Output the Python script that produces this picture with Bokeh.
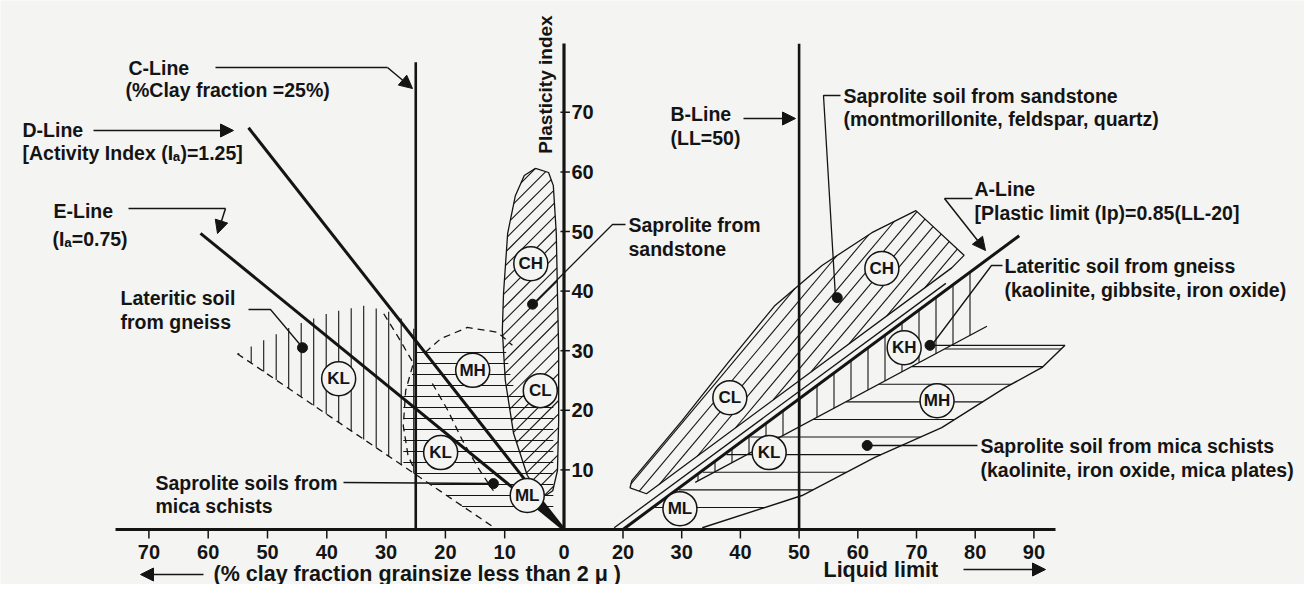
import math
from bokeh.plotting import figure
from bokeh.models import Range1d, Arrow, NormalHead
from bokeh.core.properties import value
from bokeh.embed import file_html
from bokeh.resources import INLINE

# ---------------- values ----------------
clay_tick_values = [70, 60, 50, 40, 30, 20, 10, 0]
ll_tick_values = [20, 30, 40, 50, 60, 70, 80, 90]
pi_tick_values = [10, 20, 30, 40, 50, 60, 70]

c_line_clay = 25.0          # C-Line: % clay fraction = 25
c_line_top_pi = 78.4
b_line_ll = 50.0            # B-Line: LL = 50
b_line_top_pi = 81.5
d_line_clay = [0.0, 53.2]   # D-Line (activity 1.25)
d_line_pi = [0.0, 67.4]
e_line_clay = [0.0, 61.3]   # E-Line (activity 0.75)
e_line_pi = [0.0, 49.7]
a_line_ll = [20.0, 87.5]    # A-Line
a_line_pi = [0.0, 49.3]

left_class_names = ["KL", "MH", "KL", "ML", "CH", "CL"]
left_class_clay = [38.0, 15.4, 20.8, 6.2, 5.6, 4.0]
left_class_pi = [25.3, 26.7, 12.9, 5.7, 44.6, 23.3]
right_class_names = ["CH", "CL", "KL", "ML", "KH", "MH"]
right_class_ll = [64.1, 38.2, 44.9, 29.7, 67.9, 73.5]
right_class_pi = [43.8, 22.1, 12.9, 3.5, 30.5, 21.6]

left_dot_clay = [44.1, 5.3, 11.9]
left_dot_pi = [30.5, 37.8, 7.7]
right_dot_ll = [56.5, 72.3, 61.6]
right_dot_pi = [38.9, 30.9, 14.1]

# zones, left part in (clay %, PI), right part in (LL, PI)
gneiss_left_clay = [55.1, 52.4, 45.8, 39.4, 33.5, 28.4, 25.0, 25.0]
gneiss_left_pi = [29.5, 30.9, 34.1, 36.4, 37.6, 36.2, 33.4, 9.2]
mica_left_clay = [25.0, 9.9, 8.7, 1.8, 1.8, 14.9, 27.1, 27.1, 25.0]
mica_left_pi = [30.5, 30.5, 24.2, 22.5, 2.3, 2.3, 10.6, 22.5, 27.5]
sand_left_clay = [4.8, 2.6, 1.8, 1.3, 1.1, 0.9, 0.9, 1.1, 1.9, 3.1, 4.5, 6.2,
                  8.5, 9.9, 10.4, 10.2, 9.5, 8.2, 6.7]
sand_left_pi = [60.6, 59.9, 57.7, 49.7, 39.6, 30.0, 18.3, 9.9, 6.5, 5.7, 6.5, 9.1,
                16.1, 25.0, 33.4, 39.6, 49.7, 56.0, 59.4]
dash_diag_clay = [55.1, 11.9]
dash_diag_pi = [29.5, 0.4]
dash_cap_clay = [23.4, 20.8, 16.3, 11.2, 8.7]
dash_cap_pi = [29.7, 32.0, 33.9, 33.1, 30.9]
dash_side_clay = [30.4, 27.9, 25.4, 26.7, 27.1, 26.3, 25.0]
dash_side_pi = [36.2, 32.2, 27.9, 23.3, 17.4, 12.4, 9.6]
dash_inner_clay = [22.2, 19.6, 17.1, 14.4, 11.9]
dash_inner_pi = [24.5, 20.0, 14.9, 10.2, 6.5]
wedge_clay = [0.0, 3.6, 4.8]
wedge_pi = [0.0, 4.5, 3.9]

sand_right_ll = [21.5, 30.1, 37.9, 45.9, 53.9, 62.4, 69.9, 78.1, 76.0, 24.0, 21.2]
sand_right_pi = [8.2, 18.3, 28.0, 37.6, 44.3, 49.8, 53.5, 46.0, 43.9, 6.0, 7.0]
gneiss_right_ll = [31.5, 80.0, 80.0, 32.3]
gneiss_right_pi = [8.3, 43.8, 33.0, 7.9]
gneiss_right_base_ll = [32.3, 82.0]
gneiss_right_base_pi = [7.9, 34.1]
mica_right_ll = [24.5, 44.0, 50.0, 76.0, 95.3, 91.4, 85.1, 74.3, 62.9, 50.5, 42.0]
mica_right_pi = [3.0, 17.2, 17.2, 30.9, 30.9, 27.2, 23.8, 17.1, 12.1, 5.7, 3.0]
mica_right_curve_ll = [33.5, 50.5, 62.9, 74.3, 85.1, 91.4, 95.3]
mica_right_curve_pi = [0.3, 5.7, 12.1, 17.1, 23.8, 27.2, 30.9]
mica_right_top_ll = [72.3, 95.3]
mica_right_top_pi = [30.9, 30.9]
ml_band_ll = [18.5, 75.0]
ml_band_pi = [0.3, 41.3]

# ---------------- geometry of the drawing ----------------
SX, SY = 5.9, 5.96          # pixels per unit
X0, Y0 = 563.5, 529.0       # origin (0,0) in picture pixels
W, H = 1304, 584
XMIN, XMAX = (0 - X0) / SX, (W - X0) / SX
YMAX, YMIN = Y0 / SY, (Y0 - H) / SY


def P(x, y):
    return ((x - X0) / SX, (Y0 - y) / SY)


def Lx(clay):
    return [-c * 5.93 / SX for c in clay]


def Rx(ll):
    return [10 + (v - 20) * 5.87 / SX for v in ll]


def hatch(xs, ys, angle_deg, spacing, offset=0.0):
    pts = [(x * SX, y * SY) for x, y in zip(xs, ys)]
    a = math.radians(angle_deg)
    ca, sa = math.cos(a), math.sin(a)
    rp = [(x * ca + y * sa, -x * sa + y * ca) for x, y in pts]
    ty = [q[1] for q in rp]
    t = math.ceil((min(ty) - offset) / spacing) * spacing + offset
    x0s, y0s, x1s, y1s = [], [], [], []
    n = len(rp)
    while t < max(ty):
        cuts = []
        for i in range(n):
            (xa, ya), (xb, yb) = rp[i], rp[(i + 1) % n]
            if (ya <= t < yb) or (yb <= t < ya):
                cuts.append(xa + (t - ya) * (xb - xa) / (yb - ya))
        cuts.sort()
        for j in range(0, len(cuts) - 1, 2):
            u0, u1 = cuts[j], cuts[j + 1]
            x0s.append((u0 * ca - t * sa) / SX)
            y0s.append((u0 * sa + t * ca) / SY)
            x1s.append((u1 * ca - t * sa) / SX)
            y1s.append((u1 * sa + t * ca) / SY)
        t += spacing
    return x0s, y0s, x1s, y1s


BG = "#f4f4f2"
INK = "#141414"
FONT = value("Liberation Sans")

p = figure(width=W, height=H, x_range=Range1d(XMIN, XMAX), y_range=Range1d(YMIN, YMAX),
           output_backend="svg", toolbar_location=None, x_axis_type=None, y_axis_type=None,
           min_border=0, background_fill_color=BG, border_fill_color=BG)
p.grid.visible = False
p.outline_line_color = None


def poly(xs, ys, w=1.2, dash="solid", color=INK):
    p.line(xs, ys, line_color=color, line_width=w, line_dash=dash)


def seg(h, w=1.1):
    p.segment(h[0], h[1], h[2], h[3], line_color=INK, line_width=w)


# ---- hatched zones ----
lg_x = Lx(gneiss_left_clay)
seg(hatch(lg_x, gneiss_left_pi, 90, 12.5, 0.3))
lm_x = Lx(mica_left_clay)
seg(hatch(lm_x, mica_left_pi, 0, 11.0, 1.0))
ls_x = Lx(sand_left_clay)
seg(hatch(ls_x, sand_left_pi, 45, 9.5))
poly(ls_x + ls_x[:1], sand_left_pi + sand_left_pi[:1], 1.3)

rs_x = Rx(sand_right_ll)
seg(hatch(rs_x, sand_right_pi, 50, 11.0))
poly(rs_x + rs_x[:1], sand_right_pi + sand_right_pi[:1], 1.3)
rg_x = Rx(gneiss_right_ll)
seg(hatch(rg_x, gneiss_right_pi, 90, 17.0, 2.0))
poly(Rx(gneiss_right_base_ll), gneiss_right_base_pi, 1.3)
rm_x = Rx(mica_right_ll)
seg(hatch(rm_x, mica_right_pi, 0, 17.6, 3.7 * SY))
poly(Rx(mica_right_curve_ll), mica_right_curve_pi, 1.4)
poly(Rx(mica_right_top_ll), mica_right_top_pi, 1.3)
poly(Rx(ml_band_ll), ml_band_pi, 1.3)

# ---- dashed outlines (left) ----
for cx, cy in [(dash_diag_clay, dash_diag_pi), (dash_cap_clay, dash_cap_pi),
               (dash_side_clay, dash_side_pi), (dash_inner_clay, dash_inner_pi)]:
    poly(Lx(cx), cy, 1.3, "7 5")

# ---- main lines ----
poly(Lx(d_line_clay), d_line_pi, 3.0)
poly(Lx(e_line_clay), e_line_pi, 3.0)
p.patch(Lx(wedge_clay), wedge_pi, fill_color=INK, line_color=INK)
poly(Lx([c_line_clay, c_line_clay]), [0, c_line_top_pi], 2.6)
poly(Rx([b_line_ll, b_line_ll]), [0, b_line_top_pi], 2.6)
poly(Rx(a_line_ll), a_line_pi, 3.0)

# ---- axes ----
poly([P(115, 0)[0], P(1055, 0)[0]], [0, 0], 3.2)
poly([0, 0], [0, P(0, 43)[1]], 3.2)
tick_len = 1.5
lt = Lx(clay_tick_values[:-1])
p.segment(lt, [0] * len(lt), lt, [-tick_len] * len(lt), line_color=INK, line_width=1.5)
rt = Rx(ll_tick_values)
p.segment(rt, [0] * len(rt), rt, [-tick_len] * len(rt), line_color=INK, line_width=1.5)
p.segment([-0.6] * len(pi_tick_values), pi_tick_values, [1.0] * len(pi_tick_values),
          pi_tick_values, line_color=INK, line_width=1.5)

ty = P(0, 551)[1]
p.text(Lx(clay_tick_values) + Rx(ll_tick_values),
       [ty] * (len(clay_tick_values) + len(ll_tick_values)),
       text=[str(v) for v in clay_tick_values] + [str(v) for v in ll_tick_values],
       text_font=FONT, text_font_style="bold", text_font_size="20px",
       text_align="center", text_baseline="middle", text_color=INK)
p.text([P(571, 0)[0]] * len(pi_tick_values), pi_tick_values,
       text=[str(v) for v in pi_tick_values],
       text_font=FONT, text_font_style="bold", text_font_size="20px",
       text_align="left", text_baseline="middle", text_color=INK)

# ---- class circles and dots ----
cx_all = Lx(left_class_clay) + Rx(right_class_ll)
cy_all = left_class_pi + right_class_pi
p.scatter(cx_all, cy_all, marker="circle", size=34, fill_color=BG, line_color=INK,
          line_width=1.5)
p.text(cx_all, cy_all, text=left_class_names + right_class_names, text_font=FONT,
       text_font_style="bold", text_font_size="17px", text_align="center",
       text_baseline="middle", text_color=INK)
p.scatter(Lx(left_dot_clay) + Rx(right_dot_ll), left_dot_pi + right_dot_pi,
          marker="circle", size=10, fill_color=INK, line_color=INK)

# ---- labels ----
labels = [
    ("C-Line", 128, 67), ("(%Clay fraction =25%)", 125, 89),
    ("D-Line", 22, 129), ("[Activity Index  (I\u2090)=1.25]", 22, 152),
    ("E-Line", 53, 210), ("(I\u2090=0.75)", 52, 238),
    ("Lateritic soil", 120, 297), ("from gneiss", 120, 321),
    ("Saprolite soils from", 155, 482), ("mica schists", 155, 505),
    ("Saprolite from", 628, 224), ("sandstone", 628, 248),
    ("B-Line", 670, 113), ("(LL=50)", 670, 137),
    ("Saprolite soil from sandstone", 843, 95),
    ("(montmorillonite, feldspar, quartz)", 843, 118),
    ("A-Line", 974, 188), ("[Plastic limit (Ip)=0.85(LL-20]", 974, 212),
    ("Lateritic soil from gneiss", 1004, 265),
    ("(kaolinite, gibbsite, iron oxide)", 1004, 289),
    ("Saprolite soil from mica schists", 980, 445),
    ("(kaolinite, iron oxide, mica plates)", 980, 469),
]
p.text([P(x, y)[0] for _, x, y in labels], [P(x, y)[1] for _, x, y in labels],
       text=[t for t, _, _ in labels], text_font=FONT, text_font_style="bold",
       text_font_size="19.5px", text_align="left", text_baseline="middle", text_color=INK)

p.text([P(213, 573)[0], P(823, 569)[0]], [P(213, 573)[1], P(823, 569)[1]],
       text=["(% clay fraction grainsize less than  2 \u03bc )", "Liquid limit"],
       text_font=FONT, text_font_style="bold", text_font_size="21.5px",
       text_align="left", text_baseline="middle", text_color=INK)
p.text([P(545, 84)[0]], [P(545, 84)[1]], text=["Plasticity index"], angle=math.pi / 2,
       text_font=FONT, text_font_style="bold", text_font_size="19px",
       text_align="center", text_baseline="middle", text_color=INK)

# ---- leaders and arrows ----
leaders = [
    [(215, 67), (387, 67)],
    [(128, 208), (225, 208)],
    [(972, 198), (944, 198)],
    [(248, 309), (270, 309), (302, 347)],
    [(343, 482), (493, 483)],
    [(625, 224), (612, 224), (532, 304)],
    [(840, 95), (823, 95), (835, 297)],
    [(1002, 265), (991, 265), (931, 345)],
    [(977, 445), (865, 445)],
]
for pts in leaders:
    poly([P(x, y)[0] for x, y in pts], [P(x, y)[1] for x, y in pts], 1.3)

arrows = [
    ((387, 67), (412, 88)), ((93, 130), (233, 130)), ((225, 208), (217, 233)),
    ((743, 118), (795, 118)), ((944, 198), (985, 250)),
    ((203, 574), (140, 574)), ((963, 569), (1045, 569)),
]
for (xa, ya), (xb, yb) in arrows:
    s, e = P(xa, ya), P(xb, yb)
    p.add_layout(Arrow(end=NormalHead(size=13, fill_color=INK, line_color=INK),
                       x_start=s[0], y_start=s[1], x_end=e[0], y_end=e[1],
                       line_color=INK, line_width=1.5))

open("out.html", "w").write(file_html(p, INLINE))
